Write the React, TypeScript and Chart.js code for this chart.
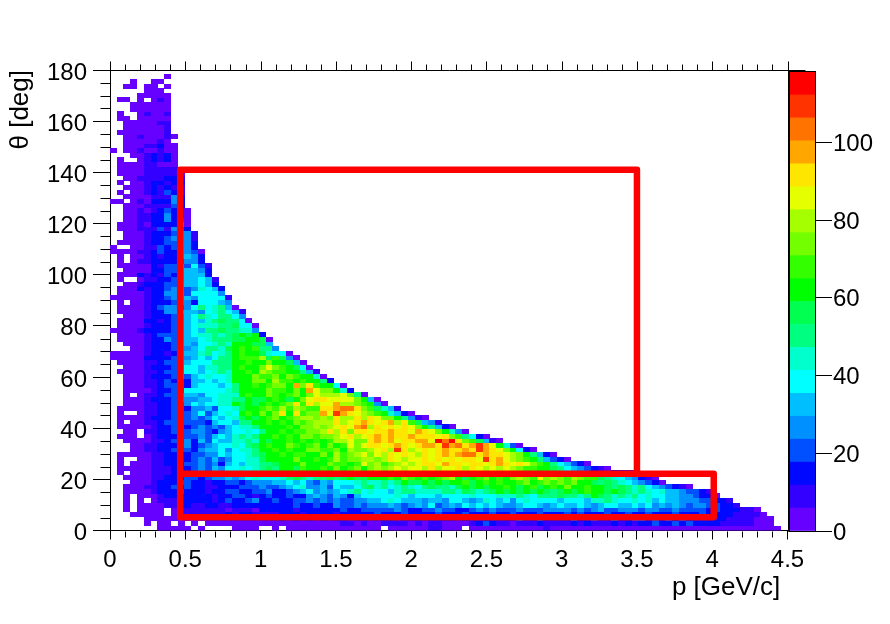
import React, { useEffect, useRef } from "react";
import { Chart, registerables } from "chart.js";

Chart.register(...registerables);

const P_BIN = 0.045;
const THETA_BIN = 1.8;
const Z_MAX = 118.1;
const FONT = "'Liberation Sans', Arial, sans-serif";

const palette = ["#6600ff","#3300ff","#0008ff","#0050ff","#0090ff","#00bfff","#00ffff","#00ffcc","#00ff80","#00ff50","#00ff00","#33ff00","#73ff00","#a6ff00","#e6ff00","#ffe600","#ffa600","#ff7300","#ff3300","#ff0000"];

const xTickValues = [0, 0.5, 1, 1.5, 2, 2.5, 3, 3.5, 4, 4.5];
const yTickValues = [0, 20, 40, 60, 80, 100, 120, 140, 160, 180];
const zTickValues = [0, 20, 40, 60, 80, 100];

const cutA_p = [0.466, 0.466, 3.5, 3.5];
const cutA_theta = [22.2, 141, 141, 22.2];
const cutB_p = [0.466, 4.01, 4.01, 0.466, 0.466];
const cutB_theta = [22.2, 22.2, 5.2, 5.2, 22.2];

// counts per theta bin, index = momentum bin
const r00=[0,0,0,0,0,0,0,3,3,3,3,3,0,3,0,0,0,0,3,3,3,3,0,0,3,0,3,3,3,3,3,3,3,3,3,3,3,3,3,3,0,3,3,3,3,3,3,9,9,3,3,3,0,3,3,3,3,3,3,3,3,3,3,3,9,3,3,3,3,3,3,3,3,3,3,3,3,3,3,3,3,3,3,3,3,3,3,3,3,3,3,3,3,3,3,3,3,3,3];
const r01=[0,0,0,0,0,3,0,3,3,0,3,0,3,0,3,3,3,3,3,3,3,3,3,3,3,3,3,3,3,3,3,3,3,3,9,9,3,9,3,3,9,9,9,9,3,9,3,9,9,3,3,3,3,9,15,21,15,9,9,3,9,9,9,15,9,9,9,9,15,9,15,9,9,9,15,9,15,9,15,15,21,15,15,21,15,21,15,15,15,15,9,9,9,9,9,3,3,3];
const r02=[0,0,0,0,0,3,3,3,3,3,3,3,3,3,9,9,9,9,9,9,9,9,9,9,9,15,9,15,9,15,9,15,9,15,15,9,15,15,9,15,15,15,9,15,15,15,9,15,15,15,15,9,15,15,15,15,15,15,15,15,21,15,15,21,15,15,15,15,21,15,15,21,15,15,21,15,15,21,21,15,21,15,21,15,21,15,15,15,15,15,15,9,9,9,9,3,3,3];
const r03=[0,0,0,3,3,3,3,3,0,3,9,9,9,9,9,9,9,15,9,15,15,9,9,9,9,15,15,15,9,15,15,15,15,9,15,15,15,15,15,21,15,15,15,21,15,15,15,15,21,15,15,15,21,15,15,15,21,15,15,21,15,15,15,21,15,15,15,21,15,21,15,15,15,21,15,15,21,15,15,21,15,15,15,21,15,15,15,21,15,15,15,15,9,9,9,9,3];
const r04=[0,0,3,0,3,3,3,3,0,3,9,9,9,9,9,9,9,3,9,9,9,3,15,15,15,15,15,9,15,15,15,15,15,15,21,15,15,21,21,21,21,21,27,21,15,15,21,21,27,21,21,15,15,21,27,21,27,21,21,21,27,21,21,21,27,27,27,27,21,27,21,27,33,21,21,27,27,27,21,27,27,21,21,27,21,21,21,21,15,21,15,15,15,9,9,3];
const r05=[0,0,3,0,3,3,3,3,9,9,15,15,9,9,15,15,9,9,15,15,15,15,15,15,15,15,15,21,15,15,21,15,15,27,21,21,27,21,27,27,27,33,27,21,27,33,27,39,21,27,33,27,39,33,39,33,39,33,27,27,33,39,39,33,27,33,39,33,33,39,33,27,33,39,39,33,33,39,33,39,27,33,27,33,27,21,27,27,21,21,15,15,9];
const r06=[0,0,3,0,3,0,3,9,9,9,15,15,15,15,15,9,15,21,15,15,21,27,15,15,21,15,15,21,21,27,21,27,21,27,21,21,27,27,33,33,39,45,39,33,33,33,27,33,33,27,39,39,33,27,33,45,39,33,39,27,39,45,39,39,39,39,33,39,39,39,33,45,45,51,45,39,39,45,39,45,33,39,33,33,27,27,27,21,21,15,15,9];
const r07=[0,0,3,0,3,3,3,9,15,15,15,15,15,15,15,9,15,15,21,21,15,9,15,21,15,15,21,15,15,27,33,27,21,33,27,15,33,39,39,39,39,39,45,39,33,39,39,39,33,39,39,39,39,45,39,39,39,45,45,45,51,45,39,51,51,51,57,51,51,45,51,63,57,51,45,51,45,51,39,45,39,39,33,33,27,27,21,15,15,3];
const r08=[0,0,3,3,3,3,9,15,15,15,21,15,15,15,9,15,15,21,21,15,15,21,21,27,15,15,21,27,33,39,27,33,27,33,39,45,51,39,45,39,39,33,45,51,51,45,45,45,45,51,51,45,57,51,45,51,57,63,57,63,57,63,57,63,57,51,57,63,57,63,68,63,63,57,63,57,51,45,51,45,39,45,33,33,27,21,21,15,9];
const r09=[0,0,3,3,3,9,9,15,15,21,15,21,15,15,9,9,15,15,15,21,21,21,27,21,21,27,33,39,45,27,27,33,21,39,33,33,39,51,57,45,51,39,45,51,45,39,51,57,51,51,45,57,63,57,63,57,63,63,68,63,57,63,68,57,63,68,63,74,63,63,68,63,63,57,51,57,51,45,51,39,33,27,21,15,9,3];
const r10=[0,0,0,3,3,3,9,15,15,15,21,21,15,15,9,15,15,21,21,15,21,27,27,27,33,33,39,33,39,27,21,33,27,39,39,39,45,51,45,45,51,45,51,63,57,57,63,57,63,57,63,63,68,57,63,68,63,68,63,63,68,74,63,68,74,68,74,68,74,63,63,57,51,57,51,45,39,33,27,21,15,3];
const r11=[0,0,3,3,3,3,9,9,15,15,15,21,21,15,21,27,27,33,27,33,39,45,39,39,39,45,51,57,51,45,51,51,57,51,57,63,57,57,63,63,63,68,63,74,68,63,68,63,68,74,80,63,57,63,68,74,63,68,63,74,80,74,68,86,74,80,74,68,80,74,68,68,57,51,45,39,33,27,15,9,3];
const r12=[0,3,0,3,3,3,9,9,9,15,15,15,15,21,27,21,27,33,33,39,39,45,45,51,51,57,57,63,63,57,63,63,68,63,68,68,63,68,74,68,74,74,80,74,74,80,86,80,74,86,80,74,86,80,74,80,74,80,74,74,68,74,68,63,63,57,57,51,45,45,39,33,27,21,15,15,9,3];
const r13=[0,3,3,3,3,3,9,9,9,15,15,15,21,27,21,33,27,39,39,45,39,45,51,57,51,63,63,57,68,63,63,68,63,74,63,68,74,63,74,80,74,80,86,80,86,86,80,92,80,86,86,92,80,92,86,80,86,80,86,80,74,68,68,63,63,57,51,39,33,27,21,15,9,3];
const r14=[0,3,0,3,3,3,9,9,15,15,15,21,21,27,21,27,15,33,39,33,45,45,51,51,57,63,63,63,74,63,63,63,74,68,68,63,68,86,74,80,68,74,80,86,80,86,92,92,86,98,92,92,86,92,92,86,92,98,92,86,92,86,74,68,63,51,39,33,21,15,3];
const r15=[0,3,0,0,3,3,9,9,15,15,15,15,21,27,21,33,21,27,39,39,45,45,57,63,63,63,63,74,63,63,68,63,68,80,68,74,74,80,80,74,80,92,86,80,86,86,92,86,92,86,92,86,92,92,86,110,92,98,86,80,74,68,63,51,33,21,15,3];
const r16=[0,3,3,3,3,3,9,9,15,15,15,15,21,21,27,27,39,33,39,39,45,51,57,63,63,68,63,68,68,63,63,74,63,80,68,74,80,86,74,86,80,92,86,92,86,80,92,86,92,98,92,98,104,104,92,98,92,92,86,80,74,63,51,33,15,3];
const r17=[0,0,0,3,3,9,9,15,15,21,21,21,15,27,33,33,39,27,39,45,45,51,63,63,68,63,68,63,63,74,74,68,68,74,63,80,74,74,80,86,92,80,110,92,80,86,92,86,92,98,92,92,98,92,110,98,92,86,74,63,39,15,3];
const r18=[0,0,0,3,3,9,9,15,15,15,21,27,15,21,27,33,39,39,45,39,51,57,63,68,63,63,74,68,63,68,74,63,74,63,68,86,74,86,92,92,86,92,98,92,86,92,98,98,92,110,98,104,92,98,110,98,86,63,45,21,3];
const r19=[0,0,3,3,3,3,9,9,15,21,21,27,15,33,21,39,33,33,45,45,51,45,63,57,63,63,68,63,68,63,68,63,68,80,80,86,74,74,92,98,92,98,86,92,92,98,98,86,113,104,113,92,74,68,57,33,9,3];
const r20=[0,3,3,3,0,3,9,15,15,15,21,21,21,27,21,33,39,33,45,51,45,51,63,63,68,63,68,63,74,74,68,74,74,80,86,92,80,86,92,98,92,98,92,92,98,92,92,92,86,92,74,68,51,39,15,3];
const r21=[0,0,3,3,0,9,9,15,15,21,21,21,27,27,21,15,27,33,39,39,45,39,51,63,63,68,63,68,68,74,74,80,92,80,92,74,92,92,86,92,92,98,92,92,86,98,92,86,74,63,45,27,3];
const r22=[0,3,3,3,3,3,9,15,15,21,21,15,21,27,21,27,21,33,39,45,45,51,63,63,63,63,68,63,74,74,80,74,80,86,92,86,98,104,80,92,86,92,86,92,86,74,63,51,33,15,3];
const r23=[0,3,0,3,3,9,9,15,21,21,21,21,21,21,15,33,39,39,33,51,51,63,63,68,63,68,63,74,68,74,80,80,80,92,80,86,92,98,92,86,92,98,80,92,68,57,33,27,9];
const r24=[0,3,3,3,3,9,15,15,15,21,21,21,27,21,27,39,33,39,45,57,63,57,63,68,74,63,68,74,80,80,74,80,74,92,80,80,92,80,92,86,74,74,63,51,27,9,3];
const r25=[0,3,0,0,3,9,9,15,15,21,21,21,27,39,21,33,39,45,39,63,68,63,74,63,74,92,63,92,68,74,74,98,86,110,98,92,86,80,74,68,63,45,33,15,3];
const r26=[0,3,3,3,3,9,9,15,15,21,21,15,27,27,33,21,39,39,45,57,63,63,68,74,68,80,68,80,74,68,68,92,92,98,104,104,92,74,68,57,45,33,9];
const r27=[0,0,3,3,3,9,9,15,15,21,21,27,39,33,39,39,45,45,63,57,63,57,63,68,63,68,74,92,68,92,80,86,86,98,80,80,74,68,63,27,3];
const r28=[0,0,3,3,3,9,15,15,15,21,27,27,27,33,33,39,45,45,51,51,63,57,57,63,68,63,57,63,74,86,92,92,86,86,86,86,74,63,33,3];
const r29=[0,0,3,0,3,9,9,15,21,21,27,33,33,27,39,39,45,45,45,63,68,63,63,74,68,63,68,74,63,74,86,80,80,80,86,74,51,3];
const r30=[0,0,3,3,3,3,9,15,15,21,21,39,39,39,39,39,39,45,51,63,63,63,63,74,68,68,63,74,63,98,86,74,74,63,45,15];
const r31=[0,0,3,3,3,9,9,15,21,21,21,15,33,39,39,39,33,39,51,63,63,68,63,68,74,74,63,98,74,92,68,63,63,39,3];
const r32=[0,0,3,3,3,9,9,15,21,15,21,15,33,33,39,33,39,45,63,63,63,74,74,63,80,68,68,63,68,63,63,51,15];
const r33=[0,0,3,3,3,9,15,15,15,21,27,21,33,39,45,39,39,45,63,63,63,74,68,68,74,63,74,68,63,63,45,3];
const r34=[0,3,3,3,3,9,9,15,21,21,27,39,39,33,39,45,51,45,63,63,68,63,80,74,68,68,63,63,51,33,9];
const r35=[0,0,3,3,3,9,15,15,15,21,27,39,39,33,45,45,51,51,63,68,63,63,74,86,74,68,63,57,39,3];
const r36=[0,3,3,3,3,9,9,15,21,21,27,33,39,39,39,51,51,51,63,63,68,63,63,74,63,63,57,33,3];
const r37=[3,3,3,3,3,15,15,15,15,21,27,27,33,39,33,39,51,51,63,68,68,68,80,57,68,57,27,3];
const r38=[3,3,3,3,3,9,15,15,9,15,27,33,33,45,51,39,45,51,63,66,63,63,57,45,39,39,3];
const r39=[0,0,0,3,3,9,15,15,15,21,27,27,33,39,51,51,45,57,63,66,63,68,51,51,27];
const r40=[0,0,3,3,3,9,15,15,15,21,27,33,27,39,39,45,51,45,63,63,63,57,57,33];
const r41=[0,3,3,3,3,9,15,15,27,21,27,33,33,39,45,51,51,51,57,57,63,63,57,3];
const r42=[0,3,3,3,3,9,15,21,21,21,27,33,39,45,45,51,45,51,57,63,57,63,15];
const r43=[3,3,3,3,9,15,15,15,15,21,27,33,39,33,51,51,57,51,51,45,45,27];
const r44=[0,3,3,3,3,9,15,15,15,21,27,33,39,45,45,45,51,51,57,39,39,3];
const r45=[0,3,3,3,3,15,15,9,15,21,27,33,39,33,45,51,57,51,51,39,3];
const r46=[0,0,3,3,3,9,15,15,15,21,27,33,39,51,45,39,51,51,39,27];
const r47=[0,3,3,3,3,9,15,15,27,27,33,33,33,27,39,45,51,39,33,9];
const r48=[0,3,3,3,3,9,15,21,27,27,21,27,39,51,39,45,51,33,3];
const r49=[0,3,0,3,3,9,15,15,15,21,27,27,15,39,39,39,33,27];
const r50=[3,3,3,3,3,9,15,15,21,27,27,33,27,39,39,39,39,9];
const r51=[0,3,3,3,3,9,15,15,27,27,27,21,39,39,39,39,27];
const r52=[0,3,3,3,15,9,15,15,21,27,27,21,27,45,39,33,15];
const r53=[0,0,3,3,9,15,15,15,21,21,27,33,33,39,33,15];
const r54=[0,3,0,0,3,9,9,15,15,21,27,33,33,39,33,9];
const r55=[0,3,3,3,15,9,15,9,21,15,27,33,33,33,15];
const r56=[0,0,3,3,3,3,15,15,21,21,27,33,33,27,15];
const r57=[0,3,3,3,3,3,15,9,21,21,27,21,39,21,9];
const r58=[0,3,0,3,9,9,15,15,15,15,21,27,27,15];
const r59=[0,3,0,3,3,9,15,9,15,15,27,33,27,15];
const r60=[3,3,3,3,9,9,15,21,15,15,27,27,21,3];
const r61=[3,0,0,3,3,9,9,21,15,21,27,27,15];
const r62=[0,3,3,3,3,9,15,15,21,21,27,27,15];
const r63=[0,0,3,3,3,9,15,15,21,27,27,27,9];
const r64=[0,0,3,3,3,9,15,15,15,21,27,27,9];
const r65=[0,3,3,3,9,9,9,21,9,27,21,15];
const r66=[0,3,3,3,9,3,15,15,15,15,27,3];
const r67=[0,0,3,3,9,9,15,15,27,15,21,3];
const r68=[0,0,3,3,9,9,15,15,27,15,15,3];
const r69=[0,0,3,3,9,3,9,15,21,15,15,3];
const r70=[0,0,3,3,3,9,9,9,9,21,15];
const r71=[3,3,0,3,9,3,15,15,15,27,15];
const r72=[0,0,3,3,3,3,9,9,9,27,15];
const r73=[0,3,0,3,3,9,15,9,21,15,9];
const r74=[0,0,3,3,3,9,15,9,15,9,9];
const r75=[0,3,0,3,3,9,15,15,9,15,15];
const r76=[0,0,3,3,9,9,9,9,15,15,9];
const r77=[0,3,3,3,3,9,9,9,9,9,3];
const r78=[0,3,3,3,3,9,9,9,9,9,3];
const r79=[0,3,3,3,3,9,9,3,3,3];
const r80=[0,3,0,0,3,9,15,9,15,3];
const r81=[0,0,0,3,3,9,15,9,15,3];
const r82=[3,0,3,3,9,3,3,9,3,3];
const r83=[0,0,3,3,3,9,9,15,3,3];
const r84=[0,0,3,3,3,3,3,9,3,0];
const r85=[0,0,3,3,9,3,3,3,9,3];
const r86=[0,3,3,3,3,3,3,3,9];
const r87=[0,0,3,3,3,3,3,3,9];
const r88=[0,0,3,3,3,3,3,9,9];
const r89=[0,3,3,0,3,3,3,3,3];
const r90=[0,3,0,0,3,9,3,3,9];
const r91=[0,0,0,3,3,3,3,3,3];
const r92=[0,0,0,3,3,3,3,3,3];
const r93=[0,3,3,0,3,0,3,9,3];
const r94=[0,0,0,0,3,3,3,3,3];
const r95=[0,0,0,0,0,3,3,3];
const r96=[0,0,3,3,0,3,3,0,3];
const r97=[0,0,0,3,0,0,3,3];
const r98=[0,0,0,0,0,0,0,0,3];

const thetaRows = [r00,r01,r02,r03,r04,r05,r06,r07,r08,r09,r10,r11,r12,r13,r14,r15,r16,r17,r18,r19,r20,r21,r22,r23,r24,r25,r26,r27,r28,r29,r30,r31,r32,r33,r34,r35,r36,r37,r38,r39,r40,r41,r42,r43,r44,r45,r46,r47,r48,r49,r50,r51,r52,r53,r54,r55,r56,r57,r58,r59,r60,r61,r62,r63,r64,r65,r66,r67,r68,r69,r70,r71,r72,r73,r74,r75,r76,r77,r78,r79,r80,r81,r82,r83,r84,r85,r86,r87,r88,r89,r90,r91,r92,r93,r94,r95,r96,r97,r98];

const levelOf = (v: number) => Math.min(palette.length - 1, Math.floor((v / Z_MAX) * palette.length));

const ticksPlugin = {
  id: "rootFrame",
  beforeDraw(chart: any) {
    chart.ctx.imageSmoothingEnabled = false;
  },
  afterDraw(chart: any) {
    const { ctx, chartArea: a, scales } = chart;
    const line = (x1: number, y1: number, x2: number, y2: number) => {
      ctx.beginPath();
      ctx.moveTo(Math.round(x1) + 0.5, Math.round(y1) + 0.5);
      ctx.lineTo(Math.round(x2) + 0.5, Math.round(y2) + 0.5);
      ctx.stroke();
    };
    ctx.save();
    ctx.strokeStyle = "#000";
    ctx.lineWidth = 1;
    line(a.left, a.top, a.right, a.top);
    line(a.right, a.top, a.right, a.bottom);
    for (let i = 0; i <= 45; i++) {
      const v = i / 10;
      const px = scales.x.getPixelForValue(v);
      const major = i % 5 === 0;
      const len = major ? 9 : 6;
      line(px, a.top, px, a.top - len);
      if (!major) line(px, a.bottom, px, a.bottom + len);
    }
    for (let v = 0; v <= 180; v += 5) {
      const py = scales.y.getPixelForValue(v);
      const major = v % 20 === 0;
      const len = major ? 17 : 10;
      line(a.right, py, a.right + len, py);
      if (!major) line(a.left, py, a.left - len, py);
    }
    ctx.restore();
  },
};

const frameBarPlugin = {
  id: "paletteFrame",
  afterDraw(chart: any) {
    const { ctx, chartArea: a } = chart;
    ctx.save();
    ctx.strokeStyle = "#000";
    ctx.lineWidth = 1;
    ctx.strokeRect(a.left - 0.5, a.top - 0.5, a.right - a.left + 1, a.bottom - a.top + 1);
    ctx.restore();
  },
};

export default function App() {
  const mainRef = useRef<HTMLCanvasElement>(null);
  const barRef = useRef<HTMLCanvasElement>(null);

  useEffect(() => {
    const sprites = palette.map((c) => {
      const s = document.createElement("canvas");
      s.width = 7;
      s.height = 5;
      const g = s.getContext("2d")!;
      g.fillStyle = c;
      g.fillRect(0, 0, 7, 5);
      return s;
    });

    const cells: { x: number; y: number; v: number }[] = [];
    thetaRows.forEach((row, r) =>
      row.forEach((v, c) => {
        if (v > 0) cells.push({ x: (c + 0.5) * P_BIN, y: (r + 0.5) * THETA_BIN, v });
      })
    );

    const main = new Chart(mainRef.current!, {
      type: "scatter",
      data: {
        datasets: [
          {
            data: cutA_p.map((x, i) => ({ x, y: cutA_theta[i] })),
            showLine: true,
            borderColor: "#ff0000",
            borderWidth: 6.5,
            borderJoinStyle: "round",
            borderCapStyle: "round",
            pointRadius: 0,
            order: 0,
          },
          {
            data: cutB_p.map((x, i) => ({ x, y: cutB_theta[i] })),
            showLine: true,
            borderColor: "#ff0000",
            borderWidth: 6.5,
            borderJoinStyle: "round",
            borderCapStyle: "round",
            pointRadius: 0,
            order: 0,
          },
          {
            data: cells,
            showLine: false,
            pointRadius: 3,
            pointBorderWidth: 0,
            pointStyle: (ctx: any) => sprites[levelOf(ctx.raw ? ctx.raw.v : 0)],
            order: 1,
          },
        ] as any,
      },
      options: {
        animation: false,
        responsive: false,
        events: [],
        layout: { padding: { top: 70, right: 102.5, left: 0, bottom: 0 } },
        plugins: { legend: { display: false }, tooltip: { enabled: false } },
        scales: {
          x: {
            type: "linear",
            min: 0,
            max: 4.5,
            afterFit: (s: any) => { s.height = 93.5; },
            afterBuildTicks: (s: any) => { s.ticks = xTickValues.map((value) => ({ value })); },
            grid: { drawOnChartArea: false, tickLength: 9, tickColor: "#000" },
            border: { color: "#000" },
            ticks: {
              color: "#000",
              padding: 6,
              maxRotation: 0,
              autoSkip: false,
              font: { family: FONT, size: 24 },
              callback: (v: any) => String(v),
            },
            title: {
              display: true,
              text: "p [GeV/c] ",
              align: "end",
              color: "#000",
              font: { family: FONT, size: 26 },
              padding: { top: 0, bottom: 21 },
            },
          },
          y: {
            type: "linear",
            min: 0,
            max: 180,
            afterFit: (s: any) => { s.width = 110; },
            afterBuildTicks: (s: any) => { s.ticks = yTickValues.map((value) => ({ value })); },
            grid: { drawOnChartArea: false, tickLength: 17, tickColor: "#000" },
            border: { color: "#000" },
            ticks: {
              color: "#000",
              padding: 6,
              autoSkip: false,
              font: { family: FONT, size: 24, lineHeight: 0.25 },
              callback: (v: any) => ["", String(v)],
            },
            title: {
              display: true,
              text: "θ [deg]",
              align: "end",
              color: "#000",
              font: { family: FONT, size: 26 },
              padding: { top: 5, bottom: 0 },
            },
          },
        },
      } as any,
      plugins: [ticksPlugin as any],
    });

    const bar = new Chart(barRef.current!, {
      type: "bar",
      data: {
        labels: ["z"],
        datasets: palette.map((c, i) => ({
          data: [[(i * Z_MAX) / palette.length, ((i + 1) * Z_MAX) / palette.length]],
          backgroundColor: c,
          borderWidth: 0,
          barPercentage: 1,
          categoryPercentage: 1,
          grouped: false,
        })) as any,
      },
      options: {
        animation: false,
        responsive: false,
        events: [],
        layout: { padding: { left: 20, top: 72, bottom: 93, right: 0 } },
        plugins: { legend: { display: false }, tooltip: { enabled: false } },
        scales: {
          x: { display: false, stacked: false },
          y: {
            type: "linear",
            position: "right",
            min: 0,
            max: Z_MAX,
            afterFit: (s: any) => { s.width = 75; },
            afterBuildTicks: (s: any) => { s.ticks = zTickValues.map((value) => ({ value })); },
            grid: { drawOnChartArea: false, tickLength: 17, tickColor: "#000" },
            border: { display: false },
            ticks: {
              color: "#000",
              padding: 1,
              font: { family: FONT, size: 24, lineHeight: 0.17 },
              callback: (v: any) => ["", String(v)],
            },
          },
        },
      } as any,
      plugins: [frameBarPlugin as any],
    });

    return () => {
      main.destroy();
      bar.destroy();
    };
  }, []);

  return (
    <div style={{ position: "absolute", left: 0, top: 0, width: 890, height: 624, background: "#fff" }}>
      <canvas ref={mainRef} width={890} height={624} style={{ position: "absolute", left: 0, top: 0 }} />
      <canvas ref={barRef} width={120} height={624} style={{ position: "absolute", left: 770, top: 0 }} />
    </div>
  );
}
